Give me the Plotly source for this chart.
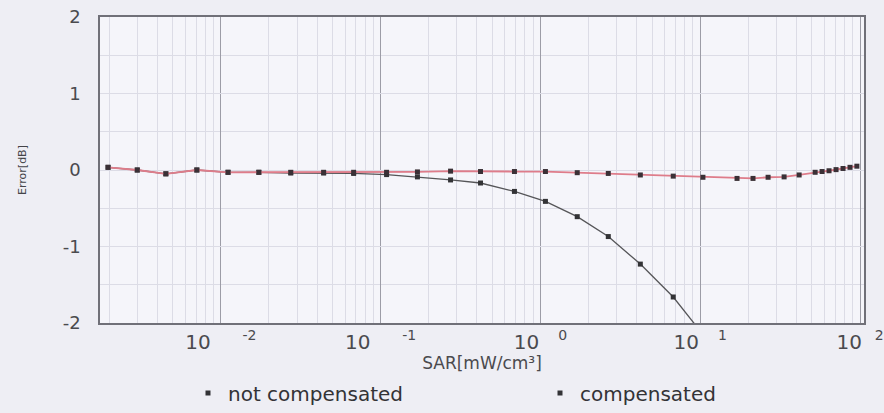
import plotly.graph_objects as go

# SAR values [mW/cm^3]
sar_not = [0.00197, 0.003, 0.00453, 0.00708, 0.0111, 0.0173, 0.0274, 0.044, 0.0678,
           0.109, 0.17, 0.274, 0.422, 0.688, 1.075, 1.70, 2.66, 4.22, 6.78, 10.4]
err_not = [0.035, 0.0, -0.05, 0.0, -0.03, -0.03, -0.04, -0.04, -0.045,
           -0.06, -0.09, -0.13, -0.17, -0.28, -0.41, -0.61, -0.87, -1.23, -1.66, -2.15]

sar_comp = [0.00197, 0.003, 0.00453, 0.00708, 0.0111, 0.0173, 0.0274, 0.044, 0.0678,
            0.109, 0.17, 0.274, 0.422, 0.688, 1.075, 1.70, 2.66, 4.22, 6.78, 10.4,
            17.0, 21.4, 26.6, 33.5, 41.6, 52.4, 57.9, 64.0, 70.8, 78.3, 86.6, 95.6]
err_comp = [0.035, 0.0, -0.05, 0.0, -0.03, -0.03, -0.03, -0.03, -0.03,
            -0.03, -0.025, -0.015, -0.02, -0.02, -0.02, -0.035, -0.045, -0.065, -0.08, -0.095,
            -0.11, -0.11, -0.095, -0.09, -0.065, -0.03, -0.02, -0.01, 0.005, 0.02, 0.035, 0.05]

x_tickvals = [0.01, 0.1, 1, 10, 100]
x_ticktext = ["10&nbsp;&nbsp;&nbsp;&nbsp;&nbsp;<sup>-2</sup>", "10&nbsp;&nbsp;&nbsp;&nbsp;&nbsp;<sup>-1</sup>",
              "10&nbsp;&nbsp;&nbsp;<sup>0</sup>", "10&nbsp;&nbsp;&nbsp;<sup>1</sup>",
              "10&nbsp;&nbsp;<sup>2</sup>"]
y_tickvals = [-2, -1, 0, 1, 2]
y_ticktext = ["-2", "-1", "0", "1", "2"]

series_names = ["not compensated", "compensated"]

fig = go.Figure()

fig.add_trace(go.Scatter(
    x=sar_not, y=err_not, mode="lines+markers", name=series_names[0],
    line=dict(color="#555558", width=1.3),
    marker=dict(symbol="square", size=5, color="#333336"),
    showlegend=False,
))
fig.add_trace(go.Scatter(
    x=sar_comp, y=err_comp, mode="lines+markers", name=series_names[1],
    line=dict(color="#de7c8a", width=1.8),
    marker=dict(symbol="square", size=5, color="#3a3036"),
    showlegend=False,
))
# legend entries (marker only, as in the reference), each in its own legend box
for nm, lg in zip(series_names, ["legend", "legend2"]):
    fig.add_trace(go.Scatter(
        x=[None], y=[None], mode="markers", name=nm, legend=lg,
        marker=dict(symbol="square", size=5, color="#333336"),
    ))

leg_common = dict(orientation="h", xanchor="left", yanchor="middle",
                  xref="container", yref="container",
                  font=dict(size=20, color="#333336"), bgcolor="rgba(0,0,0,0)")

fig.update_layout(
    width=884, height=413,
    template="none",
    paper_bgcolor="#eeeef4",
    plot_bgcolor="#f5f5fa",
    margin=dict(l=100, r=20, t=17, b=90),
    font=dict(family="DejaVu Sans", color="#444448"),
    legend=dict(x=188 / 884, y=(413 - 393) / 413, **leg_common),
    legend2=dict(x=540 / 884, y=(413 - 393) / 413, **leg_common),
    showlegend=True,
)

fig.update_xaxes(
    type="log", range=[-2.756, 2.025],
    tickmode="array", tickvals=x_tickvals, ticktext=x_ticktext,
    tickfont=dict(size=20, color="#4a4a4e"),
    ticks="", ticklabelstandoff=0, ticklabeloverflow="allow",
    showgrid=True, gridcolor="#9c9ca6", gridwidth=1,
    minor=dict(dtick="D1", showgrid=True, gridcolor="#dcdce6", gridwidth=1, ticks=""),
    showline=True, linecolor="#707078", linewidth=1.5, mirror=True,
    zeroline=False, automargin=False,
    title=dict(text="SAR[mW/cm³]", font=dict(size=17, color="#4a4a4e"), standoff=10),
)
fig.update_yaxes(
    range=[-2, 2],
    tickmode="array", tickvals=y_tickvals, ticktext=y_ticktext,
    tickfont=dict(size=18, color="#4a4a4e"),
    ticks="", ticklabelstandoff=14,
    showgrid=True, gridcolor="#dcdce6", gridwidth=1,
    minor=dict(dtick=0.5, showgrid=True, gridcolor="#dcdce6", gridwidth=1, ticks=""),
    showline=True, linecolor="#707078", linewidth=1.5, mirror=True,
    zeroline=False, automargin=False,
    title=dict(text="Error[dB]", font=dict(size=11, color="#444448"), standoff=34),
)

fig.write_html("out.html", config={"displayModeBar": False},
               post_script="document.body.style.margin='0';")
